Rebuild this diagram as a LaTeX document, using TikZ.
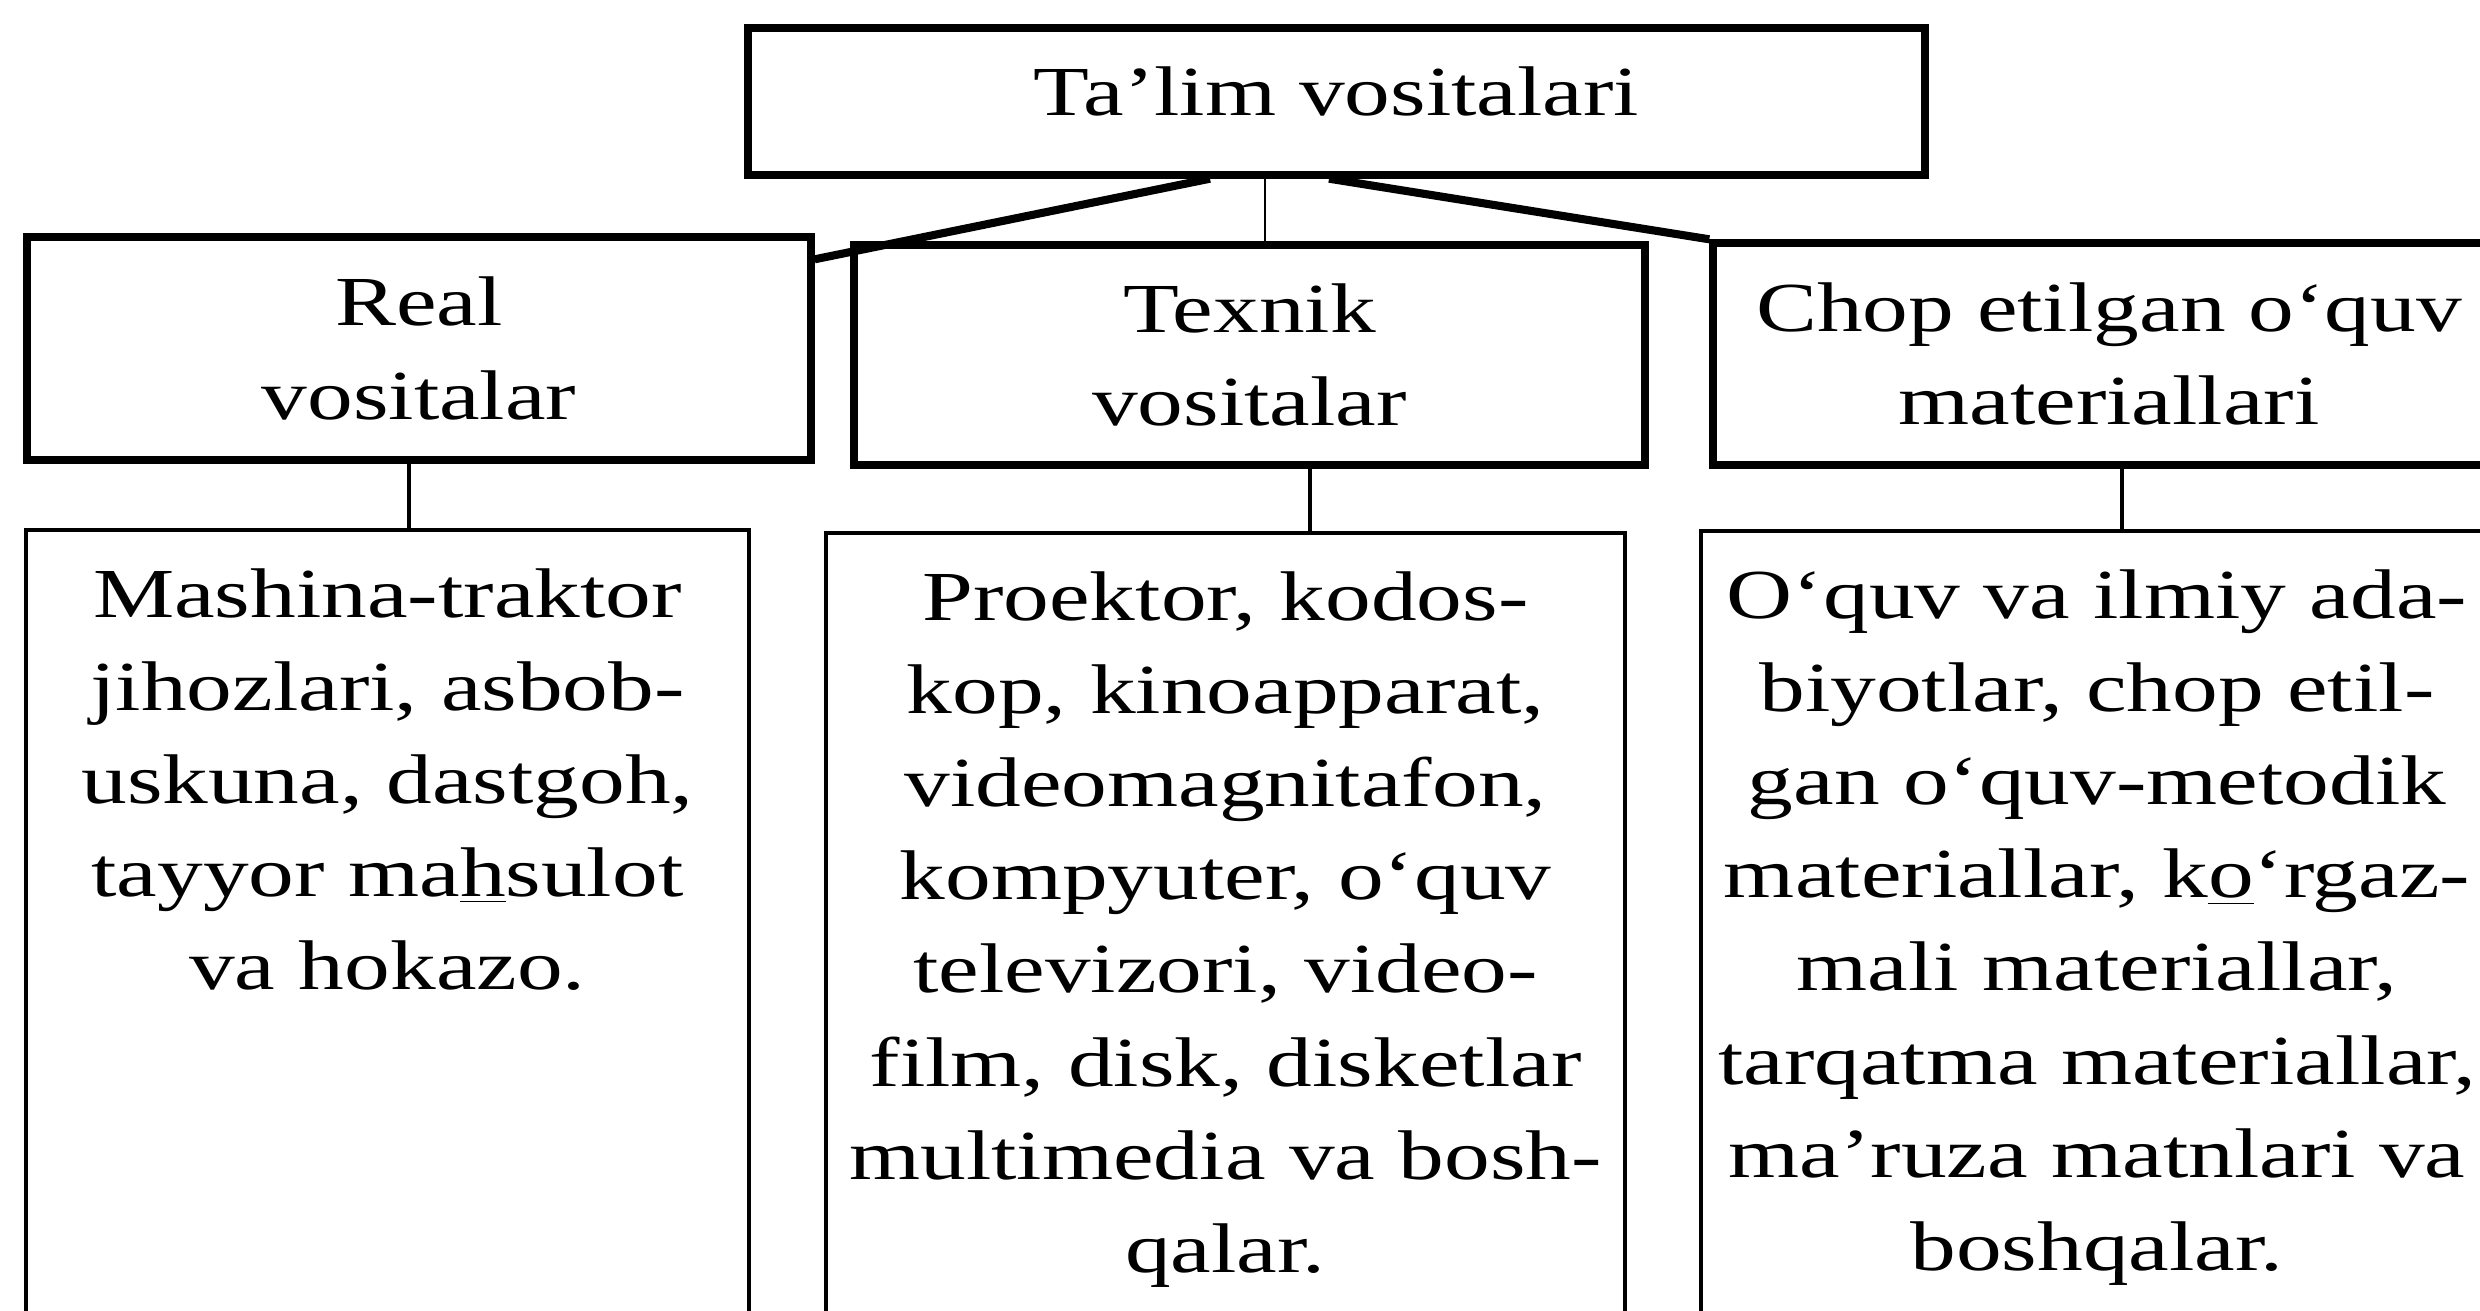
\documentclass[tikz,border=0pt]{standalone}
\usepackage{fontspec}
\setmainfont{Liberation Serif}[FakeStretch=1.3]
\usepackage{tikz}
\newcommand{\ostchiz}[1]{\underline{#1}}

\begin{document}
\begin{tikzpicture}[every node/.style={font=\fontsize{20pt}{26.5pt}\selectfont},
      sarlavha/.style={draw, line width=2.1pt, inner sep=0pt, align=center},
      izoh/.style={draw, line width=1.2pt, anchor=north, inner xsep=0pt, inner ysep=0.385cm,
                   align=center, text depth=9cm},
      qalin/.style={line width=2.3pt},
      ingichka/.style={line width=0.8pt},
      ulash/.style={line width=1.3pt}]
  \clip (0,0) rectangle (24.8,-13.11);
  % Yuqori blok
  \node[sarlavha, minimum width=11.77cm, minimum height=1.47cm, text depth=0.2cm] (talim) at (13.365,-1.015) {Ta’lim vositalari};
  % Turlari
  \node[sarlavha, minimum width=7.84cm, minimum height=2.23cm] (real) at (4.19,-3.485) {Real\\vositalar};
  \node[sarlavha, minimum width=7.91cm, minimum height=2.20cm] (tex) at (12.495,-3.55) {Texnik\\vositalar};
  \node[sarlavha, minimum width=7.92cm, minimum height=2.22cm] (chop) at (21.09,-3.54) {Chop etilgan o‘quv\\materiallari};
  % Izohlar
  \node[izoh, text width=7.23cm] (realx) at (3.875,-5.28) {Mashina-traktor\\ jihozlari, asbob-\\ uskuna, dastgoh,\\
    tayyor ma\ostchiz{h}sulot\\ va hokazo.};
  \node[izoh, text width=7.99cm] (texx) at (12.255,-5.31) {Proektor, kodos-\\ kop, kinoapparat,\\ videomagnitafon,\\
    kompyuter, o‘quv\\ televizori, video-\\ film, disk, disketlar\\ multimedia va bosh-\\ qalar.};
  \node[izoh, text width=7.92cm] (chopx) at (20.97,-5.29) {O‘quv va ilmiy ada-\\ biyotlar, chop etil-\\ gan o‘quv-metodik\\
    materiallar, k\ostchiz{o}‘rgaz-\\ mali materiallar,\\ tarqatma materiallar,\\ ma’ruza matnlari va\\ boshqalar.};
  % Ulanishlar
  \draw[qalin] ([xshift=-1.265cm]talim.south) -- ([yshift=-0.26cm]real.north east);
  \draw[ingichka] ([xshift=0.155cm]tex.north) -- ([xshift=0.155cm]tex.north |- talim.south);
  \draw[qalin] ([xshift=-0.075cm]talim.south) -- (chop.north west);
  \draw[ulash] ([xshift=-0.1cm]real.south) -- ([xshift=-0.1cm]real.south |- realx.north);
  \draw[ulash] ([xshift=0.605cm]tex.south) -- ([xshift=0.605cm]tex.south |- texx.north);
  \draw[ulash] ([xshift=0.13cm]chop.south) -- ([xshift=0.13cm]chop.south |- chopx.north);
\end{tikzpicture}
\end{document}
